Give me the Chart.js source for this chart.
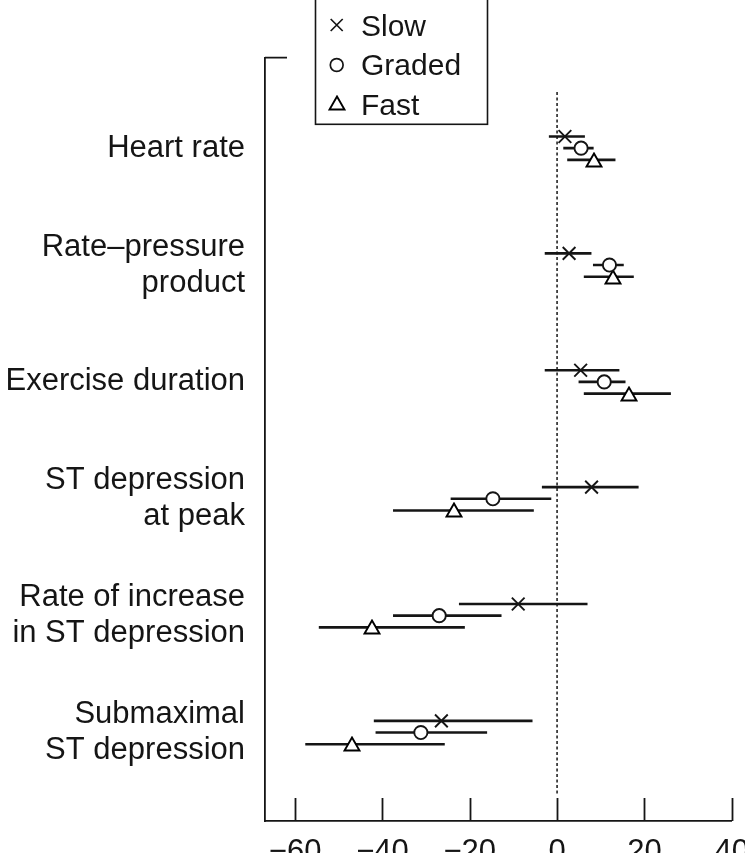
<!DOCTYPE html>
<html>
<head>
<meta charset="utf-8">
<script src="https://cdn.jsdelivr.net/npm/chart.js@4.4.1/dist/chart.umd.min.js"></script>
<style>
  html, body { margin: 0; padding: 0; background: #fff; }
  #wrap { position: relative; width: 745px; height: 853px; }
</style>
</head>
<body>
<div id="wrap"><canvas id="chart"></canvas></div>
<script>
const categories = [
  ['Heart rate'],
  ['Rate–pressure', 'product'],
  ['Exercise duration'],
  ['ST depression', 'at peak'],
  ['Rate of increase', 'in ST depression'],
  ['Submaximal', 'ST depression'],
];
const seriesNames = ['Slow', 'Graded', 'Fast'];

const slowMean = [1.8, 2.75, 5.4, 7.9, -8.9, -26.5];
const slowLow = [-1.8, -2.75, -2.75, -3.4, -22.4, -41.9];
const slowHigh = [6.3, 7.8, 14.2, 18.6, 6.9, -5.7];

const gradedMean = [5.5, 12.0, 10.8, -14.7, -27.0, -31.2];
const gradedLow = [1.5, 8.3, 5.0, -24.3, -37.5, -41.5];
const gradedHigh = [8.3, 15.2, 15.6, -1.4, -12.8, -16.1];

const fastMean = [8.5, 12.9, 16.5, -23.7, -42.3, -46.9];
const fastLow = [2.4, 6.2, 6.2, -37.5, -54.5, -57.6];
const fastHigh = [13.3, 17.5, 26.0, -5.4, -21.2, -25.8];

const xTicks = [-60, -40, -20, 0, 20, 40];
const xTickLabels = ['\u221260', '\u221240', '\u221220', '0', '20', '40'];

const FONT = '"Liberation Sans", Arial, Helvetica, sans-serif';
const INK = '#151515';

// where each series sits inside its row (row units)
const rowOffset = { Slow: -0.1, Graded: 0, Fast: 0.1 };

function makeTriangle() {
  const c = document.createElement('canvas');
  c.width = 18;
  c.height = 16;
  const g = c.getContext('2d');
  g.beginPath();
  g.moveTo(9, 1.5);
  g.lineTo(16.5, 14.5);
  g.lineTo(1.5, 14.5);
  g.closePath();
  g.fillStyle = '#fff';
  g.fill();
  g.lineWidth = 1.9;
  g.strokeStyle = '#000';
  g.lineJoin = 'miter';
  g.stroke();
  return c;
}
const triangle = makeTriangle();

const points = (means, name) => means.map((m, i) => ({ x: m, y: i + rowOffset[name] }));
const ranges = (lows, highs, name) => lows.map((lo, i) => ({ x: [lo, highs[i]], y: i + rowOffset[name] }));

const errorBar = (lows, highs, name) => ({
  type: 'bar',
  label: name + ' CI',
  indexAxis: 'y',
  data: ranges(lows, highs, name),
  backgroundColor: INK,
  borderWidth: 0,
  barThickness: 2,
  grouped: false,
  order: 2,
});

const markerSet = (means, name, style) => ({
  type: 'scatter',
  label: name,
  data: points(means, name),
  pointStyle: style.pointStyle,
  pointRadius: style.radius,
  pointBorderWidth: 1.9,
  pointBorderColor: INK,
  pointBackgroundColor: '#fff',
  order: 1,
});

const markerStyles = {
  Slow: { pointStyle: 'crossRot', radius: 9 },
  Graded: { pointStyle: 'circle', radius: 6.6 },
  Fast: { pointStyle: triangle, radius: 8 },
};

function drawMarker(ctx, name, x, y) {
  ctx.save();
  ctx.strokeStyle = INK;
  ctx.lineWidth = 1.7;
  if (name === 'Slow') {
    const d = 6;
    ctx.beginPath();
    ctx.moveTo(x - d, y - d); ctx.lineTo(x + d, y + d);
    ctx.moveTo(x + d, y - d); ctx.lineTo(x - d, y + d);
    ctx.stroke();
  } else if (name === 'Graded') {
    ctx.beginPath();
    ctx.arc(x, y, 6.4, 0, Math.PI * 2);
    ctx.stroke();
  } else {
    ctx.drawImage(triangle, Math.round(x - triangle.width / 2), Math.round(y - triangle.height / 2));
  }
  ctx.restore();
}

const decor = {
  id: 'decor',
  beforeDraw(chart) {
    chart.ctx.imageSmoothingEnabled = false;
  },
  beforeDatasetsDraw(chart) {
    const { ctx, scales: { x, y } } = chart;
    const x0 = x.getPixelForValue(0);
    ctx.save();
    ctx.strokeStyle = INK;
    ctx.lineWidth = 1.5;
    ctx.setLineDash([3, 2.5]);
    ctx.beginPath();
    ctx.moveTo(x0, y.getPixelForValue(-0.48));
    ctx.lineTo(x0, y.getPixelForValue(5.53));
    ctx.stroke();
    ctx.restore();
  },
  afterDraw(chart) {
    const { ctx, chartArea, scales: { x } } = chart;
    ctx.save();
    ctx.strokeStyle = INK;
    ctx.lineWidth = 1.8;
    // tick marks point up into the plot
    ctx.beginPath();
    xTicks.forEach((v) => {
      const px = Math.round(x.getPixelForValue(v)) + 0.5;
      ctx.moveTo(px, chartArea.bottom - 23);
      ctx.lineTo(px, chartArea.bottom);
    });
    // small stub at the top of the left axis
    ctx.moveTo(chartArea.left, chartArea.top);
    ctx.lineTo(chartArea.left + 22, chartArea.top);
    ctx.stroke();

    // legend box
    ctx.lineWidth = 1.6;
    ctx.strokeRect(315.5, -1, 172, 125.3);
    ctx.fillStyle = INK;
    ctx.font = '30px ' + FONT;
    ctx.textAlign = 'left';
    ctx.textBaseline = 'alphabetic';
    const rows = [{ mark: 25, base: 35.7 }, { mark: 65, base: 74.5 }, { mark: 102.5, base: 114.5 }];
    seriesNames.forEach((name, i) => {
      drawMarker(ctx, name, 336.7, rows[i].mark);
      ctx.fillText(name, 361, rows[i].base);
    });
    ctx.restore();
  },
};

const ctx = document.getElementById('chart').getContext('2d');
new Chart(ctx, {
  type: 'scatter',
  data: {
    datasets: [
      errorBar(slowLow, slowHigh, 'Slow'),
      errorBar(gradedLow, gradedHigh, 'Graded'),
      errorBar(fastLow, fastHigh, 'Fast'),
      markerSet(slowMean, 'Slow', markerStyles.Slow),
      markerSet(gradedMean, 'Graded', markerStyles.Graded),
      markerSet(fastMean, 'Fast', markerStyles.Fast),
    ],
  },
  options: {
    responsive: true,
    maintainAspectRatio: false,
    animation: false,
    layout: { padding: { top: 57.7, right: 13.3, left: 0, bottom: 0 } },
    plugins: {
      legend: { display: false },
      tooltip: { enabled: false },
    },
    scales: {
      x: {
        type: 'linear',
        min: -66.9,
        max: 40,
        offset: false,
        afterBuildTicks: (s) => { s.ticks = xTicks.map((v) => ({ value: v })); },
        afterFit: (s) => { s.height = 32; s.paddingLeft = 0; s.paddingRight = 0; },
        ticks: {
          callback: (v, i) => xTickLabels[i],
          font: { family: FONT, size: 31 },
          color: INK,
          padding: 13,
          maxRotation: 0,
          autoSkip: false,
        },
        grid: { drawOnChartArea: false, drawTicks: false, offset: false },
        border: { color: INK, width: 1.8 },
      },
      y: {
        type: 'linear',
        reverse: true,
        min: -0.774,
        max: 5.757,
        offset: false,
        afterBuildTicks: (s) => { s.ticks = categories.map((c, i) => ({ value: i })); },
        afterFit: (s) => { s.width = 265; s.paddingTop = 0; s.paddingBottom = 0; },
        ticks: {
          callback: (v, i) => categories[i],
          font: { family: FONT, size: 31, lineHeight: 1.16 },
          color: INK,
          padding: 20,
          autoSkip: false,
        },
        grid: { drawOnChartArea: false, drawTicks: false, offset: false },
        border: { color: INK, width: 1.8 },
      },
    },
  },
  plugins: [decor],
});
</script>
</body>
</html>
